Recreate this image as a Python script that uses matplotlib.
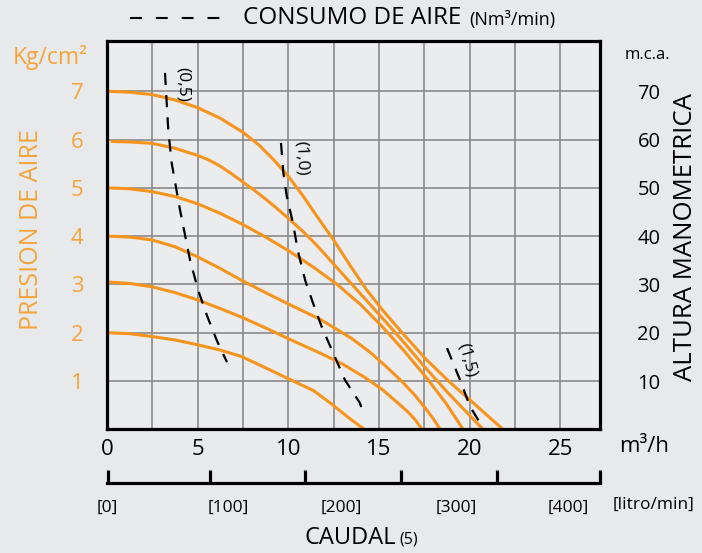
import numpy as np
import matplotlib
matplotlib.use('Agg')
import matplotlib.pyplot as plt
from matplotlib.lines import Line2D

plt.rcParams['font.family'] = ['Open Sans', 'DejaVu Sans']

# ─── data: caudal (m3/h) vs presion (kg/cm2) ─────────────────────────────────
q7 = [0, 1.25, 2.5, 3.75, 5, 6.25, 7.5, 8.4, 9.2, 10.0, 10.8, 11.6, 12.5, 13.4, 14.3, 15.2, 16.4, 17.6, 18.9, 20.2, 21.0, 21.85]
p7 = [7.0, 6.98, 6.93, 6.82, 6.66, 6.44, 6.15, 5.88, 5.58, 5.24, 4.84, 4.4, 3.92, 3.4, 2.9, 2.47, 1.95, 1.45, 0.98, 0.55, 0.28, 0]

q6 = [0.2, 1.25, 2.5, 3.75, 5.0, 5.6, 6.2, 6.8, 7.5, 8.3, 9.2, 10.0, 10.8, 11.6, 12.7, 14.0, 15.2, 16.4, 17.6, 18.8, 19.9, 20.75]
p6 = [5.96, 5.95, 5.92, 5.82, 5.67, 5.58, 5.46, 5.31, 5.12, 4.9, 4.63, 4.37, 4.1, 3.8, 3.34, 2.8, 2.3, 1.79, 1.26, 0.76, 0.33, 0]

q5 = [0, 1.25, 2.5, 3.75, 5, 6.25, 7.5, 8.75, 10.0, 11.3, 12.7, 14.0, 15.2, 16.4, 17.6, 18.7, 19.65]
p5 = [5.0, 4.98, 4.92, 4.82, 4.67, 4.47, 4.24, 3.98, 3.7, 3.38, 3.0, 2.58, 2.12, 1.62, 1.08, 0.54, 0]

q4 = [0, 1.25, 2.5, 3.75, 5, 6.25, 7.5, 8.8, 10.2, 11.8, 13.5, 14.5, 15.4, 16.3, 17.0, 17.6, 18.0, 18.38]
p4 = [4.0, 3.98, 3.92, 3.78, 3.57, 3.33, 3.07, 2.82, 2.56, 2.27, 1.88, 1.6, 1.3, 0.98, 0.7, 0.42, 0.22, 0]

q3 = [0, 1.25, 2.5, 3.75, 5, 6.25, 7.5, 8.8, 10.1, 11.8, 13.0, 14.2, 15.2, 16.0, 16.6, 17.0, 17.38]
p3 = [3.05, 3.02, 2.95, 2.83, 2.68, 2.5, 2.31, 2.09, 1.86, 1.57, 1.35, 1.08, 0.82, 0.56, 0.36, 0.2, 0]

q2 = [0, 1.25, 2.5, 3.75, 5, 6.25, 7.4, 8.6, 10.1, 11.4, 12.4, 13.4, 14.2]
p2 = [2.0, 1.98, 1.92, 1.85, 1.75, 1.64, 1.51, 1.3, 1.03, 0.8, 0.52, 0.22, 0]

# consumo de aire (Nm3/min), lineas de trazos
a05_q = [3.2, 3.38, 3.57, 4.03, 4.58, 5.02, 5.52, 6.07, 6.62]
a05_p = [7.38, 6.2, 5.51, 4.54, 3.51, 2.89, 2.35, 1.83, 1.39]
a10_q = [9.6, 9.73, 9.92, 10.26, 10.54, 10.93, 11.37, 11.85, 12.49, 13.13, 13.96, 14.07]
a10_p = [5.93, 5.31, 4.82, 4.27, 3.68, 3.09, 2.61, 2.12, 1.57, 1.02, 0.54, 0.4]
a15_q = [18.76, 19.48, 20.03, 20.8]
a15_p = [1.68, 1.02, 0.47, 0.0]

air_labels = ['(0,5)', '(1,0)', '(1,5)']
air_label_q = [4.19, 10.7, 19.87]
air_label_p = [7.15, 5.62, 1.44]

x_ticks = [0, 5, 10, 15, 20, 25]
y_ticks = [1, 2, 3, 4, 5, 6, 7]
mca_ticks = [10, 20, 30, 40, 50, 60, 70]
litro_tick_pos = [0, 5.6, 10.87, 16.17, 21.52, 27.2]
litro_label_pos = [-0.07, 6.64, 12.89, 19.23, 25.47]
litro_labels = ['[0]', '[100]', '[200]', '[300]', '[400]']

# ─── style ───────────────────────────────────────────────────────────────────
BG = '#e8e9eb'
ORANGE = '#f7941d'
ORANGE_TXT = '#f5a43a'
GRID = '#8a8a8a'
W, H = 702, 553

fig = plt.figure(figsize=(W / 100, H / 100), dpi=100)
fig.patch.set_facecolor(BG)

ax = fig.add_axes([107 / W, 1 - 429.3 / H, 493 / W, 388.3 / H])
ax.set_facecolor('#ebecee')
ax.set_xlim(0, 27.2)
ax.set_ylim(0, 8.04)

for q, p in [(q7, p7), (q6, p6), (q5, p5), (q4, p4), (q3, p3), (q2, p2)]:
    ax.plot(q, p, color=ORANGE, lw=2.2, solid_capstyle='butt', solid_joinstyle='round', zorder=3)

for q, p in [(a05_q, a05_p), (a10_q, a10_p), (a15_q, a15_p)]:
    ax.plot(q, p, color='black', lw=1.6, linestyle=(0, (5.5, 4.5)), zorder=4)

rots = [-90, -88, -75]
for lab, q, p, r in zip(air_labels, air_label_q, air_label_p, rots):
    ax.text(q, p, lab, rotation=r, ha='center', va='center', fontsize=12.5, zorder=5)

ax.set_xticks(x_ticks)
ax.set_xticks(np.arange(2.5, 27.2, 5), minor=True)
ax.set_yticks(y_ticks)
ax.grid(True, which='both', color=GRID, lw=1.2)
ax.set_axisbelow(True)
ax.tick_params(axis='both', which='both', length=0)
ax.tick_params(axis='x', labelsize=16, pad=7)
ax.tick_params(axis='y', labelsize=16, labelcolor=ORANGE_TXT, pad=17)
for s in ax.spines.values():
    s.set_linewidth(2.3)
    s.set_color('black')
    s.set_zorder(6)

axr = ax.twinx()
axr.set_ylim(0, 80.4)
axr.set_yticks(mca_ticks)
axr.tick_params(axis='y', length=0, labelsize=14.5, pad=27)
for s in axr.spines.values():
    s.set_visible(False)

# escala litro/min bajo el eje
axq = fig.add_axes([107 / W, 1 - 483 / H, 493 / W, 0.02])
axq.set_facecolor('none')
axq.set_xlim(0, 27.2)
axq.set_yticks([])
for k in ['top', 'left', 'right']:
    axq.spines[k].set_visible(False)
axq.spines['bottom'].set_linewidth(2.3)
axq.set_xticks(litro_tick_pos, [''] * len(litro_tick_pos))
axq.set_xticks(litro_label_pos, litro_labels, minor=True)
axq.tick_params(axis='x', which='major', direction='in', length=9.5, width=2.3)
axq.tick_params(axis='x', which='minor', length=0, labelsize=12.5, pad=12)

# textos
fig.add_artist(Line2D([130 / W, 222 / W], [1 - 18 / H] * 2, color='black', lw=1.5,
                      linestyle=(0, (5.7, 6.7))))
fig.text(243 / W, 1 - 18 / H, 'CONSUMO DE AIRE', fontsize=17.5, va='center', ha='left')
fig.text(469 / W, 1 - 20 / H, '(Nm³/min)', fontsize=13, va='center', ha='left')
fig.text(50 / W, 1 - 57 / H, 'Kg/cm²', fontsize=16.5, color=ORANGE_TXT, ha='center', va='center')
fig.text(32 / W, 1 - 230 / H, 'PRESION DE AIRE', fontsize=18, color=ORANGE_TXT,
         rotation=90, ha='center', va='center')
fig.text(647 / W, 1 - 55 / H, 'm.c.a.', fontsize=12, ha='center', va='center')
fig.text(685 / W, 1 - 237 / H, 'ALTURA MANOMETRICA', fontsize=18.5, rotation=90,
         ha='center', va='center')
fig.text(644 / W, 1 - 447 / H, 'm³/h', fontsize=16, ha='center', va='center')
fig.text(654 / W, 1 - 505 / H, '[litro/min]', fontsize=12.5, ha='center', va='center')
fig.text(396 / W, 1 - 538 / H, 'CAUDAL', fontsize=17, ha='right', va='center')
fig.text(399 / W, 1 - 540 / H, '(5)', fontsize=11.5, ha='left', va='center')

fig.savefig('out.png', dpi=100, facecolor=BG)
